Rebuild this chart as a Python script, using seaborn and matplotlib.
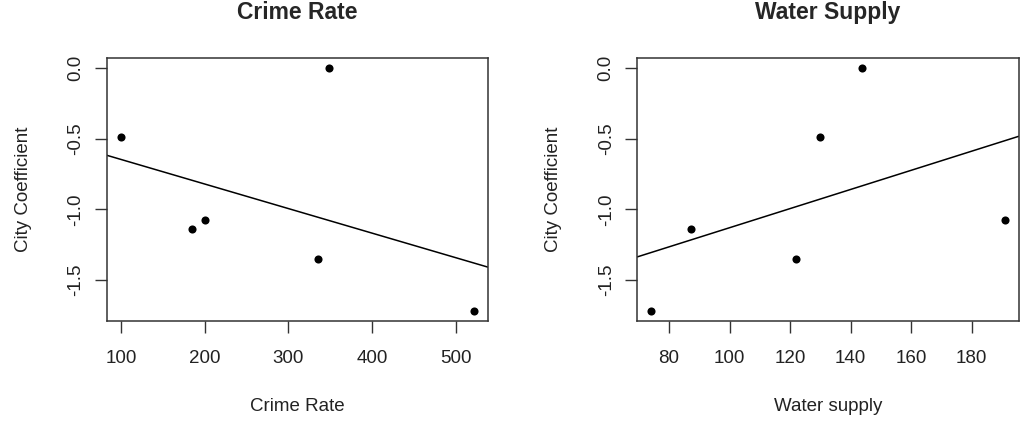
import pandas as pd
import matplotlib
matplotlib.use("Agg")
import matplotlib.pyplot as plt
from matplotlib.ticker import FormatStrFormatter
import seaborn as sns

# values (one point per city)
city_coef = [-0.49, -1.136, -1.077, 0.0, -1.351, -1.72]
crime_rate = [100, 185, 201, 349, 336, 521.5]
water_supply = [130, 87.2, 190.9, 143.8, 122, 74.2]

crime_ticks = [100, 200, 300, 400, 500]
water_ticks = [80, 100, 120, 140, 160, 180]
coef_ticks = [0.0, -0.5, -1.0, -1.5]


def r_lim(v):
    # base R pads the data range by 4% on each side
    lo, hi = min(v), max(v)
    pad = 0.04 * (hi - lo)
    return lo - pad, hi + pad


def panel(ax, x, title, xlabel, xticks):
    df = pd.DataFrame({"x": x, "coef": city_coef})
    ax.set_xlim(r_lim(x))
    ax.set_ylim(r_lim(city_coef))
    sns.regplot(data=df, x="x", y="coef", ax=ax, ci=None, truncate=False,
                scatter_kws=dict(s=34, color="black", linewidths=0, alpha=1),
                line_kws=dict(color="black", lw=1.1))
    ax.set_xlim(r_lim(x))
    ax.set_ylim(r_lim(city_coef))

    ax.set_xticks(xticks)
    ax.set_yticks(coef_ticks)
    ax.yaxis.set_major_formatter(FormatStrFormatter("%.1f"))
    ax.tick_params(axis="both", direction="out", length=8.6, width=1,
                   labelsize=13.5, color="#333333", labelcolor="#222222",
                   bottom=True, left=True)
    ax.tick_params(axis="x", pad=12.5)
    ax.tick_params(axis="y", pad=7.7)
    plt.setp(ax.get_yticklabels(), rotation=90, va="center")

    for s in ax.spines.values():
        s.set_visible(True)
        s.set_color("#333333")
        s.set_linewidth(1.1)

    ax.set_title(title, fontsize=16.5, fontweight="bold", pad=28.5)
    ax.set_xlabel(xlabel, fontsize=13.5, color="#222222")
    ax.set_ylabel("City Coefficient", fontsize=13.5, color="#222222")
    ax.xaxis.set_label_coords(0.5, -0.293)
    ax.yaxis.set_label_coords(-0.197, 0.5)


def main():
    sns.set_style("white")
    plt.rcParams["font.family"] = ["Liberation Sans", "DejaVu Sans"]
    plt.rcParams["axes.unicode_minus"] = False

    fig = plt.figure(figsize=(10.24, 4.33), dpi=100)
    ax1 = fig.add_axes([0.1042, 0.2587, 0.3721, 0.6066])
    ax2 = fig.add_axes([0.6224, 0.2587, 0.3724, 0.6066])

    panel(ax1, crime_rate, "Crime Rate", "Crime Rate", crime_ticks)
    panel(ax2, water_supply, "Water Supply", "Water supply", water_ticks)

    fig.savefig("out.png", dpi=100)


if __name__ == "__main__":
    main()
